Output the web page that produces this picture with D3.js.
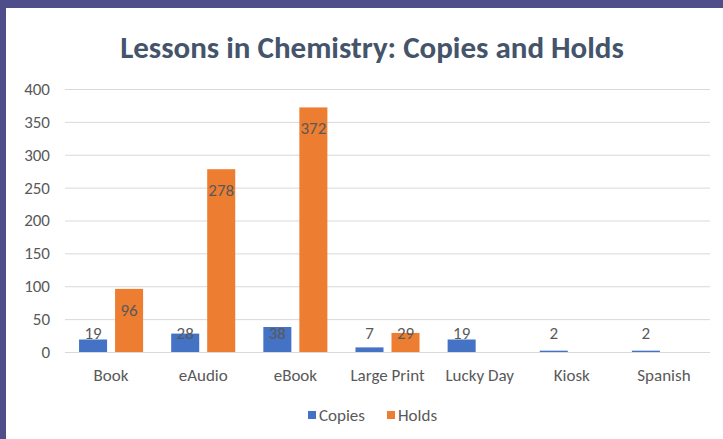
<!DOCTYPE html>
<html lang="en">
<head>
  <meta charset="UTF-8">
  <script src="https://d3js.org/d3.v7.min.js"></script>
  <title>Lessons in Chemistry: Copies and Holds</title>
  <style>
    body { margin: 0; background: #fff; }
    text { font-family: Carlito, Calibri, Lato, "Open Sans", sans-serif; }
  </style>
</head>
<body>
  <svg width="723" height="439"></svg>
  <script>
    const categories = ["Book", "eAudio", "eBook", "Large Print", "Lucky Day", "Kiosk", "Spanish"];
    const copies = [19, 28, 38, 7, 19, 2, 2];
    const holds = [96, 278, 372, 29, null, null, null];
    const seriesNames = ["Copies", "Holds"];
    const seriesColors = ["#4472C4", "#ED7D31"];
    const yTicks = [0, 50, 100, 150, 200, 250, 300, 350, 400];

    const svg = d3.select("svg");
    const fontStack = "Carlito, Calibri, Lato, sans-serif";

    // frame
    svg.append("rect").attr("width", 723).attr("height", 439).attr("fill", "#4f4e8a");
    svg.append("rect").attr("x", 6).attr("y", 8).attr("width", 717).attr("height", 431).attr("fill", "#fff");

    // title
    svg.append("text")
      .attr("x", 372).attr("y", 58)
      .attr("text-anchor", "middle")
      .attr("font-size", 31).attr("font-weight", "bold")
      .attr("fill", "#44546A")
      .text("Lessons in Chemistry: Copies and Holds");

    // scales
    const xScale = d3.scaleBand().domain(categories).range([65, 710]);
    const subScale = d3.scaleBand().domain(seriesNames).range([0, xScale.bandwidth()])
      .paddingInner(0.222).paddingOuter(0.39);
    const yScale = d3.scaleLinear().domain([0, 400]).range([352, 89]);

    // y axis with gridlines
    const yAxis = d3.axisLeft(yScale)
      .tickValues(yTicks)
      .tickSize(-(710 - 65))
      .tickPadding(15);

    const yG = svg.append("g").attr("transform", "translate(65,0)").call(yAxis);
    yG.select(".domain").remove();
    yG.selectAll(".tick line").attr("stroke", "#d9d9d9").attr("stroke-width", 1);
    yG.selectAll(".tick text").attr("fill", "#595959").attr("font-size", 17)
      .style("font-family", fontStack);

    // x axis labels
    const xAxis = d3.axisBottom(xScale).tickSize(0).tickPadding(17);
    const xG = svg.append("g").attr("transform", "translate(0,352)").call(xAxis);
    xG.select(".domain").remove();
    xG.selectAll(".tick text").attr("fill", "#595959").attr("font-size", 17)
      .style("font-family", fontStack);

    // rows
    const rows = categories.map((c, i) => ({ cat: c, values: [copies[i], holds[i]] }));

    const groups = svg.selectAll("g.cat")
      .data(rows)
      .join("g")
      .attr("class", "cat")
      .attr("transform", (d) => `translate(${xScale(d.cat)},0)`);

    const cells = groups.selectAll("g.bar")
      .data((d) => d.values.map((v, j) => ({ name: seriesNames[j], color: seriesColors[j], value: v })).filter((e) => e.value != null))
      .join("g")
      .attr("class", "bar");

    cells.append("rect")
      .attr("x", (d) => subScale(d.name))
      .attr("y", (d) => yScale(d.value))
      .attr("width", subScale.bandwidth())
      .attr("height", (d) => yScale(0) - yScale(d.value))
      .attr("fill", (d) => d.color);

    // labels: inside end, kept above the axis
    cells.append("text")
      .attr("x", (d) => subScale(d.name) + subScale.bandwidth() / 2)
      .attr("y", (d) => Math.min(yScale(d.value) + 21, yScale(0) - 19))
      .attr("dy", "0.35em")
      .attr("text-anchor", "middle")
      .attr("font-size", 17)
      .attr("fill", "#595959")
      .text((d) => d.value);

    // legend
    const legend = svg.append("g").attr("transform", "translate(308,411)");
    const legendX = [0, 79];
    seriesNames.forEach((name, i) => {
      legend.append("rect")
        .attr("x", legendX[i]).attr("y", 0)
        .attr("width", 8).attr("height", 8)
        .attr("fill", seriesColors[i]);
      legend.append("text")
        .attr("x", legendX[i] + 11).attr("y", 4)
        .attr("dy", "0.35em")
        .attr("font-size", 17)
        .attr("fill", "#595959")
        .text(name);
    });
  </script>
</body>
</html>
